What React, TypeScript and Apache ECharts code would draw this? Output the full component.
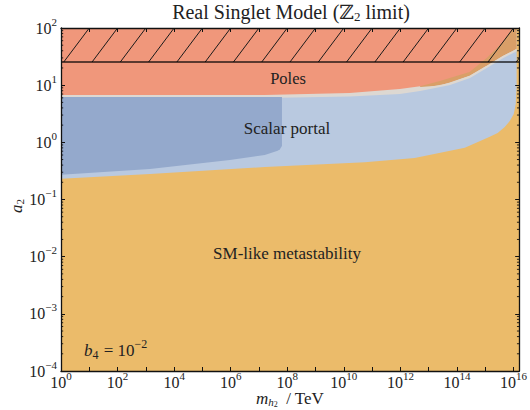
import React, { useEffect, useRef } from "react";
import * as echarts from "echarts";

// ---- data (mass in TeV, a2 dimensionless) ----
const X_MIN_EXP = 0;
const X_MAX_EXP = 16.2;
const Y_MIN_EXP = -4;
const Y_MAX_EXP = 2;

// Upper edge of the SM-like metastability region (orange / blue boundary)
const METASTABILITY_MASS = [1, 1.4e3, 1.6e7, 5.5e10, 3.2e12, 1.9e14, 1.45e15, 2.75e15, 4.9e15, 7.4e15, 1.02e16, 1.2e16, 1.29e16, 1.29e16];
const METASTABILITY_A2 = [0.23, 0.28, 0.37, 0.45, 0.53, 0.8, 1.25, 1.46, 1.86, 2.37, 3.14, 4.7, 10, 41];

// Upper edge of the scalar-portal region
const PORTAL_TOP_MASS = [1.29e16, 9.4e15, 4.2e15, 1.13e15, 2.8e14, 5.6e13, 4.9e12, 9.5e11, 1.6e10, 1.6e7, 1];
const PORTAL_TOP_A2 = [41, 38, 31, 20.8, 13.9, 10.5, 8.2, 7.3, 6.6, 6.2, 6.2];

// Lower edge of the overlap band (metastability over poles)
const OVERLAP_MASS = [5.0e12, 2.5e13, 5.6e13, 2.8e14, 1.13e15, 4.2e15, 9.4e15, 1.29e16];
const OVERLAP_A2 = [9.3, 9.9, 11.1, 14.6, 21.8, 32.5, 39.5, 43.5];

// Lower edge of the poles region
const POLES_MASS = [1, 1.6e7, 1.6e10, 9.5e11, 5.0e12, 2.5e13, 2.8e14, 1.13e15, 4.2e15, 9.4e15];
const POLES_A2 = [6.75, 6.75, 7.3, 8.6, 9.6, 11.8, 17, 30, 57, 100];

// Darker scalar-portal region
const DARK_PORTAL_MASS = [1, 6.5e7, 6.5e7, 5.5e7, 4.6e7, 1.6e7, 9.3e5, 1.4e3, 1];
const DARK_PORTAL_A2 = [6.2, 6.2, 0.86, 0.76, 0.71, 0.6, 0.49, 0.34, 0.27];

// Hatched (perturbativity) limit
const HATCH_LIMIT_A2 = 25.5;

const X_TICK_EXPS = [0, 2, 4, 6, 8, 10, 12, 14, 16];
const Y_TICK_EXPS = [-4, -3, -2, -1, 0, 1, 2];

const FONT = '"Liberation Serif", "DejaVu Serif", serif';
const C_ORANGE = "#EBBB6A";
const C_BLUE = "#B9C9E0";
const C_DARKBLUE = "#94A9CC";
const C_SALMON = "#F0977B";
const C_BROWN = "#D99F68";
const C_LIGHT = "#DDD8D2";
const C_TEXT = "#222";

const lg = (v: number) => Math.log10(v);
const pts = (ms: number[], as: number[]) => ms.map((m, i) => [lg(m), lg(as[i])]);

function polySeries(name: string, points: number[][], color: string, z: number) {
  return {
    type: "custom",
    name,
    coordinateSystem: "cartesian2d",
    clip: true,
    silent: true,
    z,
    data: [[points[0][0], points[0][1]]],
    renderItem: (_p: any, api: any) => ({
      type: "polygon",
      shape: { points: points.map((p) => api.coord(p)) },
      style: { fill: color, stroke: null },
    }),
  };
}

function expLabel(e: number) {
  const s = e < 0 ? "\u2212" + -e : String(e);
  return `{b|10}{s|${s}}`;
}

export default function App() {
  const ref = useRef<HTMLDivElement>(null);
  useEffect(() => {
    if (!ref.current) return;
    const chart = echarts.init(ref.current, null, { renderer: "svg" });

    const metaPts = pts(METASTABILITY_MASS, METASTABILITY_A2);
    const portalTop = pts(PORTAL_TOP_MASS, PORTAL_TOP_A2);
    const overlap = pts(OVERLAP_MASS, OVERLAP_A2);
    const poles = pts(POLES_MASS, POLES_A2);
    const dark = pts(DARK_PORTAL_MASS, DARK_PORTAL_A2);
    const hl = lg(HATCH_LIMIT_A2);

    const bg = [[X_MIN_EXP, Y_MIN_EXP], [X_MAX_EXP, Y_MIN_EXP], [X_MAX_EXP, Y_MAX_EXP], [X_MIN_EXP, Y_MAX_EXP]];
    const blue = [...metaPts, ...portalTop];
    const ptLR = portalTop.slice().reverse();
    const lightPoly = [...ptLR, [ptLR[ptLR.length - 1][0], Y_MAX_EXP], [ptLR[0][0], Y_MAX_EXP]];
    const brownPoly = [...overlap, [overlap[overlap.length - 1][0], Y_MAX_EXP], [overlap[0][0], Y_MAX_EXP]];
    const salmonPoly = [...poles, [poles[poles.length - 1][0], Y_MAX_EXP], [poles[0][0], Y_MAX_EXP]];

    const richLabel = {
      b: { fontSize: 16, fontFamily: FONT, color: C_TEXT, verticalAlign: "middle" },
      s: { fontSize: 11, fontFamily: FONT, color: C_TEXT, verticalAlign: "middle", padding: [0, 0, 13, 0] },
    };

    const axisCommon = {
      type: "value",
      z: 10,
      splitLine: { show: false },
      axisLine: { show: true, onZero: false, lineStyle: { color: "#111", width: 1.3 } },
      axisTick: { show: true, inside: true, length: 4, lineStyle: { color: "#111", width: 1 } },
    };

    const hatchSeries = {
      type: "custom",
      coordinateSystem: "cartesian2d",
      clip: true,
      silent: true,
      z: 8,
      data: [[X_MIN_EXP, hl]],
      renderItem: (_p: any, api: any) => {
        const children: any[] = [];
        for (let k = 0; k <= 18; k++) {
          const a = api.coord([k - 0.9, hl]);
          const b = api.coord([k, Y_MAX_EXP]);
          children.push({ type: "line", shape: { x1: a[0], y1: a[1], x2: b[0], y2: b[1] }, style: { stroke: "#1a1a1a", lineWidth: 1 } });
        }
        const l = api.coord([X_MIN_EXP, hl]);
        const r = api.coord([X_MAX_EXP, hl]);
        children.push({ type: "line", shape: { x1: l[0], y1: l[1], x2: r[0], y2: r[1] }, style: { stroke: "rgba(0,0,0,0.62)", lineWidth: 2 } });
        return { type: "group", children };
      },
    };

    const minorTickSeries = {
      type: "custom",
      coordinateSystem: "cartesian2d",
      clip: false,
      silent: true,
      z: 12,
      data: [[X_MIN_EXP, Y_MIN_EXP]],
      renderItem: (_p: any, api: any) => {
        const children: any[] = [];
        for (let n = Y_MIN_EXP; n < Y_MAX_EXP; n++) {
          for (let k = 2; k <= 9; k++) {
            const y = n + lg(k);
            const l = api.coord([X_MIN_EXP, y]);
            const r = api.coord([X_MAX_EXP, y]);
            children.push({ type: "line", shape: { x1: l[0], y1: l[1], x2: l[0] + 2.2, y2: l[1] }, style: { stroke: "#111", lineWidth: 0.9 } });
            children.push({ type: "line", shape: { x1: r[0], y1: r[1], x2: r[0] - 2.2, y2: r[1] }, style: { stroke: "#111", lineWidth: 0.9 } });
          }
        }
        return { type: "group", children };
      },
    };

    const lightLineSeries = {
      type: "custom",
      coordinateSystem: "cartesian2d",
      clip: true,
      silent: true,
      z: 5.5,
      data: [[ptLR[0][0], ptLR[0][1]]],
      renderItem: (_p: any, api: any) => ({
        type: "polyline",
        shape: { points: ptLR.map((p) => api.coord(p)) },
        style: { stroke: C_LIGHT, lineWidth: 2, fill: null },
      }),
    };

    const txt = (x: number, y: number, text: string, fontSize: number, extra: any = {}) => ({
      type: "text",
      x,
      y,
      z: 100,
      style: { text, fontFamily: FONT, fontSize, fill: C_TEXT, align: "center", verticalAlign: "middle", ...extra },
    });

    chart.setOption({
      animation: false,
      grid: { left: 61, right: 9, top: 28, bottom: 39, show: false },
      xAxis: [
        {
          ...axisCommon,
          position: "bottom",
          min: X_MIN_EXP,
          max: X_MAX_EXP,
          interval: 1,
          axisLabel: {
            show: true,
            margin: -1,
            formatter: (v: number) => (Number.isInteger(v) && X_TICK_EXPS.includes(v) ? expLabel(v) : ""),
            rich: richLabel,
          },
        },
        {
          ...axisCommon,
          position: "top",
          min: X_MIN_EXP,
          max: X_MAX_EXP,
          interval: 1,
          axisLabel: { show: false },
        },
      ],
      yAxis: [
        {
          ...axisCommon,
          position: "left",
          min: Y_MIN_EXP,
          max: Y_MAX_EXP,
          interval: 1,
          axisLabel: {
            show: true,
            margin: 4,
            formatter: (v: number) => (Y_TICK_EXPS.includes(v) ? expLabel(v) : ""),
            rich: richLabel,
          },
        },
        {
          ...axisCommon,
          position: "right",
          min: Y_MIN_EXP,
          max: Y_MAX_EXP,
          interval: 1,
          axisLabel: { show: false },
        },
      ],
      series: [
        polySeries("SM-like metastability", bg, C_ORANGE, 1),
        polySeries("Scalar portal", blue, C_BLUE, 2),
        polySeries("gap", lightPoly, C_LIGHT, 3),
        polySeries("overlap", brownPoly, C_BROWN, 5),
        lightLineSeries,
        polySeries("Poles", salmonPoly, C_SALMON, 6),
        polySeries("Scalar portal (dark)", dark, C_DARKBLUE, 7),
        hatchSeries,
        minorTickSeries,
      ],
      graphic: [
        txt(291, 12, "Real Singlet Model (\u2124{sub|2} limit)", 20, {
          rich: { sub: { fontSize: 13, fontFamily: FONT, fill: C_TEXT, padding: [8, 0, 0, 0] } },
        }),
        txt(288, 78, "Poles", 16.5),
        txt(287, 128, "Scalar portal", 17),
        txt(287, 253, "SM-like metastability", 17),
        txt(84, 350, "{i|b}{sub|4} = 10{sup|\u22122}", 17, {
          align: "left",
          rich: {
            i: { fontSize: 17, fontFamily: FONT, fontStyle: "italic", fill: C_TEXT },
            sub: { fontSize: 12, fontFamily: FONT, fill: C_TEXT, padding: [9, 1, 0, 0] },
            sup: { fontSize: 12, fontFamily: FONT, fill: C_TEXT, padding: [0, 0, 13, 0] },
          },
        }),
        {
          ...txt(16, 206, "{i|a}{sub|2}", 16, {
            rich: {
              i: { fontSize: 17, fontFamily: FONT, fontStyle: "italic", fill: C_TEXT },
              sub: { fontSize: 11, fontFamily: FONT, fill: C_TEXT, padding: [8, 0, 0, 0] },
            },
          }),
          rotation: Math.PI / 2,
        },
        txt(290, 398, "{i|m}{si|h}{sub|2} / TeV", 17, {
          rich: {
            i: { fontSize: 17, fontFamily: FONT, fontStyle: "italic", fill: C_TEXT },
            si: { fontSize: 11, fontFamily: FONT, fontStyle: "italic", fill: C_TEXT, padding: [8, 0, 0, 0] },
            sub: { fontSize: 8, fontFamily: FONT, fill: C_TEXT, padding: [12, 4, 0, 0] },
          },
        }),
      ],
    });
    return () => chart.dispose();
  }, []);
  return <div ref={ref} style={{ width: 530, height: 410, position: "absolute", left: 0, top: 0 }} />;
}
